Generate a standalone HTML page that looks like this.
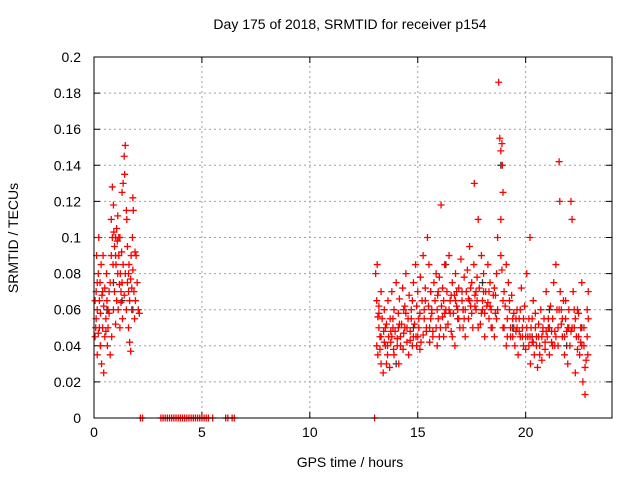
<!DOCTYPE html>
<html><head><meta charset="utf-8"><style>
body{margin:0;background:#fff}
svg text{font-family:"Liberation Sans",sans-serif;font-size:14px;fill:#000}
</style></head><body>
<svg id="chart" width="640" height="480" xmlns="http://www.w3.org/2000/svg">
<text x="350" y="29" text-anchor="middle">Day 175 of 2018, SRMTID for receiver p154</text>
<text x="350" y="467" text-anchor="middle">GPS time / hours</text>
<text transform="translate(18,238) rotate(-90)" text-anchor="middle">SRMTID / TECUs</text>
<g id="grid"></g><g id="ticks"></g><g id="marks"></g>
<rect x="94" y="57" width="518" height="361" fill="none" stroke="#000" stroke-width="1"/>
</svg>
<script>
const xTicks=[0,5,10,15,20];
const yTicks=[0,0.02,0.04,0.06,0.08,0.1,0.12,0.14,0.16,0.18,0.2];
const yTickLabels=["0","0.02","0.04","0.06","0.08","0.1","0.12","0.14","0.16","0.18","0.2"];
const earlyPoints=[[0.05,.045],[0.05,.065],[0.08,.05],[0.1,.07],[0.1,.055],[0.12,.09],[0.15,.035],[0.15,.06],[0.2,.08],[0.2,.047],[0.22,.1],[0.25,.065],[0.28,.075],[0.3,.058],[0.3,.04],[0.33,.085],[0.35,.03],[0.37,.068],[0.4,.05],[0.42,.09],[0.45,.025],[0.45,.062],[0.5,.072],[0.5,.045],[0.55,.055],[0.58,.08],[0.6,.065],[0.62,.04],[0.65,.05],[0.7,.07],[0.7,.058],[0.75,.035],[0.75,.075],[0.8,.11],[0.8,.09],[0.82,.045],[0.85,.1],[0.85,.128],[0.88,.085],[0.9,.06],[0.9,.118],[0.92,.103],[0.95,.095],[0.95,.07],[1.0,.1],[1.0,.052],[1.02,.085],[1.05,.065],[1.05,.105],[1.08,.098],[1.1,.08],[1.1,.112],[1.12,.06],[1.15,.09],[1.18,.074],[1.2,.1],[1.2,.05],[1.22,.08],[1.25,.064],[1.28,.092],[1.3,.075],[1.3,.125],[1.32,.055],[1.35,.13],[1.35,.085],[1.4,.145],[1.4,.068],[1.42,.135],[1.45,.151],[1.45,.08],[1.5,.115],[1.5,.06],[1.52,.11],[1.55,.075],[1.55,.095],[1.6,.07],[1.6,.05],[1.62,.085],[1.65,.042],[1.65,.065],[1.7,.037],[1.7,.077],[1.72,.09],[1.75,.06],[1.78,.1],[1.8,.082],[1.8,.122],[1.82,.115],[1.85,.07],[1.88,.055],[1.9,.092],[1.92,.065],[1.95,.09],[2.0,.075],[2.05,.06],[2.1,.058],[0.15,.075],[0.25,.05],[0.4,.07],[0.55,.048],[0.65,.06],[1.0,.09],[1.15,.1],[1.25,.07],[1.6,.08],[1.75,.072]];
const latePoints=[
[13.05,.08],[13.1,.04],[13.1,.065],[13.12,.085],[13.15,.035],[13.2,.062],[13.2,.05],[13.25,.045],[13.3,.03],[13.3,.07],[13.35,.055],[13.4,.025],[13.42,.048],[13.45,.06],[13.5,.04],[13.55,.052],[13.6,.035],[13.62,.065],[13.65,.045],[13.7,.028],[13.72,.055],[13.75,.042],[13.8,.07],[13.85,.05],[13.88,.038],[13.9,.06],[13.95,.048],[14.0,.075],[14.05,.04],[14.1,.058],[14.12,.03],[14.15,.066],[14.2,.045],[14.25,.052],[14.3,.072],[14.32,.038],[14.35,.06],[14.4,.05],[14.45,.08],[14.5,.042],[14.55,.055],[14.58,.035],[14.6,.068],[14.65,.048],[14.7,.06],[14.75,.04],[14.8,.075],[14.85,.052],[14.9,.085],[14.92,.045],[14.95,.062],[15.0,.07],[15.05,.05],[15.1,.058],[15.12,.078],[15.15,.042],[15.2,.065],[15.25,.09],[15.3,.055],[15.35,.072],[15.4,.048],[15.45,.1],[15.5,.062],[15.52,.085],[15.55,.05],[15.6,.07],[15.65,.058],[15.7,.045],[15.75,.075],[15.8,.065],[15.85,.08],[15.9,.04],[15.92,.068],[15.95,.055],[16.0,.078],[16.05,.05],[16.08,.118],[16.1,.062],[16.15,.072],[16.2,.045],[16.25,.085],[16.3,.06],[16.35,.07],[16.4,.052],[16.45,.09],[16.5,.065],[16.55,.048],[16.6,.075],[16.65,.058],[16.7,.068],[16.72,.04],[16.75,.08],[16.8,.062],[16.85,.055],[16.9,.072],[16.95,.05],[17.0,.088],[17.05,.065],[17.1,.06],[17.15,.078],[17.2,.045],[17.25,.07],[17.3,.082],[17.35,.055],[17.4,.095],[17.45,.062],[17.5,.075],[17.55,.05],[17.6,.085],[17.62,.13],[17.65,.068],[17.7,.06],[17.75,.078],[17.8,.11],[17.85,.072],[17.9,.052],[17.95,.09],[18.0,.065],[18.05,.08],[18.1,.058],[18.15,.07],[18.2,.062],[18.25,.085],[18.3,.055],[18.35,.075],[18.4,.06],[18.45,.05],[18.5,.068],[18.55,.045],[18.6,.058],[18.65,.08],[18.7,.1],[18.75,.186],[18.8,.155],[18.85,.148],[18.9,.152],[18.92,.14],[18.95,.125],[18.85,.11],[18.9,.082],[18.95,.065],[19.0,.07],[19.05,.062],[19.1,.085],[19.15,.055],[19.2,.075],[19.25,.06],[19.3,.05],[19.35,.068],[19.4,.045],[19.45,.058],[19.5,.04],[19.55,.048],[19.6,.06],[19.65,.035],[19.7,.055],[19.75,.045],[19.8,.072],[19.85,.05],[19.9,.04],[19.95,.062],[20.0,.038],[20.05,.08],[20.1,.045],[20.15,.055],[20.2,.1],[20.22,.03],[20.25,.05],[20.3,.042],[20.35,.065],[20.4,.035],[20.45,.058],[20.5,.045],[20.55,.028],[20.6,.052],[20.65,.04],[20.7,.06],[20.75,.032],[20.8,.048],[20.85,.055],[20.9,.038],[20.95,.07],[21.0,.045],[21.05,.05],[21.1,.035],[21.15,.062],[21.2,.042],[21.25,.055],[21.3,.075],[21.35,.048],[21.4,.085],[21.45,.06],[21.5,.04],[21.55,.142],[21.58,.12],[21.6,.07],[21.65,.052],[21.7,.045],[21.75,.065],[21.8,.035],[21.85,.055],[21.9,.048],[21.95,.03],[22.0,.06],[22.05,.04],[22.1,.12],[22.15,.11],[22.2,.07],[22.25,.05],[22.3,.025],[22.35,.045],[22.4,.038],[22.45,.058],[22.5,.035],[22.55,.042],[22.6,.075],[22.65,.02],[22.7,.05],[22.75,.013],[22.8,.032],[22.85,.06],[22.9,.07],
[13.2,.058],[13.5,.05],[13.8,.045],[14.1,.05],[14.4,.062],[14.7,.055],[15.0,.045],[15.3,.06],[15.6,.055],[15.9,.06],[16.2,.065],[16.5,.058],[16.8,.07],[17.1,.05],[17.4,.065],[17.7,.07],[18.0,.06],[18.3,.07],[18.6,.068],[19.0,.05],[19.3,.045],[19.6,.05],[19.9,.055],[20.2,.045],[20.5,.04],[20.8,.05],[21.1,.05],[21.4,.045],[21.7,.055],[22.0,.05],[22.3,.055],[22.6,.04],[22.85,.045],
[13.3,.045],[13.6,.04],[13.9,.035],[14.2,.04],[14.5,.05],[14.8,.045],[15.1,.038],[15.4,.05],[15.7,.048],[16.0,.045],[16.3,.05],[16.6,.045],[16.9,.055],[17.2,.06],[17.5,.058],[17.8,.05],[18.1,.045],[18.4,.05],[18.7,.06],[19.1,.04],[19.4,.055],[19.7,.048],[20.0,.045],[20.3,.055],[20.6,.045],[20.9,.042],[21.2,.048],[21.5,.05],[21.8,.045],[22.1,.048],[22.4,.06],[22.7,.04],[22.9,.055],
[13.15,.056],[13.45,.042],[13.75,.048],[14.05,.044],[14.35,.047],[14.65,.043],[14.95,.04],[15.25,.046],[15.55,.042],[15.85,.05],[16.15,.056],[16.45,.06],[16.75,.065],[17.05,.07],[17.35,.066],[17.65,.062],[17.95,.058],[18.25,.064],[18.55,.072],[18.85,.09],[19.15,.045],[19.45,.05],[19.75,.06],[20.05,.05],[20.35,.042],[20.65,.035],[20.95,.048],[21.25,.04],[21.55,.06],[21.85,.065],[22.15,.05],[22.45,.045],[22.75,.028],
[13.25,.038],[13.55,.03],[13.85,.055],[14.15,.052],[14.45,.058],[14.75,.065],[15.05,.055],[15.35,.065],[15.65,.06],[15.95,.07],[16.25,.058],[16.55,.068],[16.85,.06],[17.15,.055],[17.45,.072],[17.75,.065],[18.05,.07],[18.35,.062],[18.65,.055],[18.95,.05],[19.25,.065],[19.55,.055],[19.85,.045],[20.15,.04],[20.45,.05],[20.75,.045],[21.05,.055],[21.35,.04],[21.65,.06],[21.95,.05],[22.25,.06],[22.55,.05],[22.88,.035]];
const grayPoints=[[0.3,.04],[0.6,.06],[0.9,.075],[1.3,.065],[1.8,.06],[14.0,.03],[14.8,.05],[15.6,.07],[16.3,.085],[17.1,.06],[18.0,.075],[18.85,.14],[19.4,.05],[20.3,.045],[21.1,.06],[21.9,.04],[22.6,.05]];
const zeroT=[2.15,2.25,3.1,3.2,3.3,3.4,3.5,3.6,3.7,3.8,3.9,4.0,4.1,4.2,4.3,4.4,4.5,4.6,4.7,4.8,4.9,5.0,5.1,5.2,5.3,5.5,6.1,6.2,6.4,6.5,13.0];

const X0=94,X1=612,Y0=418,Y1=57,XMAX=24,YMAX=0.2;
const xs=t=>X0+t/XMAX*(X1-X0), ys=v=>Y0-v/YMAX*(Y0-Y1);
const NS='http://www.w3.org/2000/svg';
function mk(tag,attrs,parent){const e=document.createElementNS(NS,tag);for(const k in attrs)e.setAttribute(k,attrs[k]);document.getElementById(parent).appendChild(e);return e;}
xTicks.forEach(t=>{const x=xs(t);
 if(t>0){const g=mk('line',{x1:x,x2:x,y1:Y0,y2:Y1,stroke:'#a0a0a0','stroke-dasharray':'2,3'},'grid');
 
 }
 const tk=mk('path',{d:`M${x},${Y0}v-6M${x},${Y1}v6`,stroke:'#000'},'ticks');
 
 
 const lb=mk('text',{x:x,y:Y0+19,'text-anchor':'middle'},'ticks');lb.textContent=t;
 
 });
yTicks.forEach((v,i)=>{const y=ys(v);
 if(v>0&&v<YMAX){const g=mk('line',{x1:X0,x2:X1,y1:y,y2:y,stroke:'#a0a0a0','stroke-dasharray':'2,3'},'grid');
 
 }
 const tk=mk('path',{d:`M${X0},${y}h6M${X1},${y}h-6`,stroke:'#000'},'ticks');
 
 
 const lb=mk('text',{x:X0-13,y:y+5,'text-anchor':'end'},'ticks');lb.textContent=yTickLabels[i];
 
 });
function plus(t,v,col,name){const x=xs(t),y=ys(v);
 const p=mk('path',{d:`M${x-3.5},${y}h7M${x},${y-3.5}v7`,stroke:col,'stroke-width':1.3},'marks');
 
 }
grayPoints.forEach(p=>plus(p[0],p[1],'#333','gray-point'));
earlyPoints.forEach(p=>plus(p[0],p[1],'#ff0000','red-point'));
latePoints.forEach(p=>plus(p[0],p[1],'#ff0000','red-point'));
zeroT.forEach(t=>plus(t,0,'#ff0000','zero-point'));
</script>
</body></html>
